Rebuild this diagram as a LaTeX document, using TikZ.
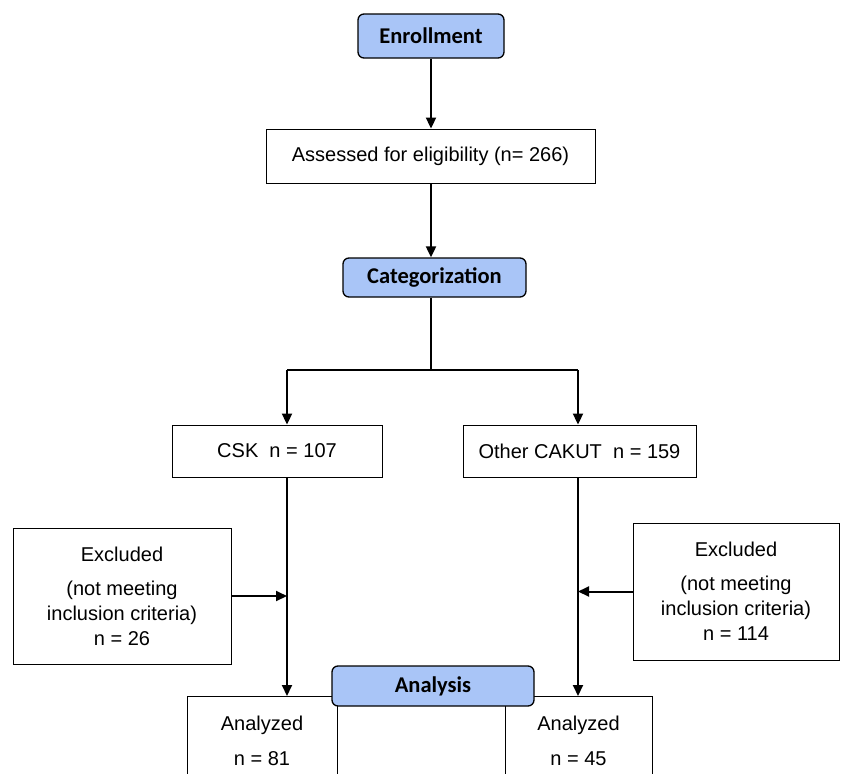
\documentclass[tikz,border=0pt]{standalone}
\usepackage{fontspec}
\setmainfont{Liberation Sans}
\newfontfamily\headfont{Carlito}
\usetikzlibrary{arrows.meta}
\definecolor{headblue}{HTML}{A9C5F7}
\tikzset{
  head/.style={draw=black, line width=1.3pt, fill=headblue, rounded corners=6pt, inner sep=0pt,
    font=\headfont\bfseries\fontsize{22.5}{26}\selectfont},
  plainbox/.style={draw=black, line width=0.9pt, fill=white, inner sep=0pt, align=center,
    font=\fontsize{20}{25}\selectfont},
  arr/.style={line width=2pt, -{Triangle[length=11pt,width=10pt]}},
  ln/.style={line width=2pt},
}
\begin{document}
\begin{tikzpicture}[x=1pt,y=-1pt]
\useasboundingbox (0,0) rectangle (844,774);
\clip (0,0) rectangle (844,774);
\fill[white] (0,0) rectangle (844,774);
\node[head, minimum width=146pt, minimum height=44pt] (enr) at (431,36) {Enrollment};
\node[plainbox, minimum width=329pt, minimum height=54pt] (ass) at (430.5,156) {Assessed for eligibility (n= 266)};
\node[head, minimum width=183pt, minimum height=39pt] (cat) at (434.5,277.5) {Categorization};
\coordinate (split) at (431,370);
\coordinate (L) at (287,370);
\coordinate (R) at (578,370);
\node[plainbox, minimum width=210pt, minimum height=52pt] (csk) at (277,451) {CSK\ \ n = 107};
\node[plainbox, minimum width=233pt, minimum height=52pt] (oth) at (579.5,451) {Other CAKUT\ \ n = 159};
\node[plainbox, minimum width=218pt, minimum height=136pt] (ex1) at (122,596) {Excluded\\[9pt](not meeting\\inclusion criteria)\\n = 26};
\node[plainbox, minimum width=206pt, minimum height=137pt] (ex2) at (736,591.5) {Excluded\\[9pt](not meeting\\inclusion criteria)\\n = 114};
\node[plainbox, minimum width=150pt, minimum height=88pt, anchor=north] (an1) at (262,696) {Analyzed\\[10pt]n = 81};
\node[plainbox, minimum width=147pt, minimum height=88pt, anchor=north] (an2) at (578.5,696) {Analyzed\\[10pt]n = 45};
\draw[line width=0.9pt] (an1.north east) -- (an2.north west);
\draw[line width=0.9pt] (an1.north east) -- (an1.south east);
\node[head, minimum width=202pt, minimum height=40pt] (ana) at (433,686) {Analysis};
\draw[arr] (split |- enr.south) -- (split |- ass.north);
\draw[arr] (split |- ass.south) -- (split |- cat.north);
\draw[ln] (split |- cat.south) -- (split);
\draw[ln] (L) -- (R);
\draw[arr] (L) -- (L |- csk.north);
\draw[arr] (R) -- (R |- oth.north);
\draw[arr] (L |- csk.south) -- (L |- an1.north);
\draw[arr] (R |- oth.south) -- (R |- an2.north);
\draw[arr] (ex1.east) -- (ex1.east -| L);
\draw[arr] (ex2.west) -- (ex2.west -| R);
\end{tikzpicture}
\end{document}
